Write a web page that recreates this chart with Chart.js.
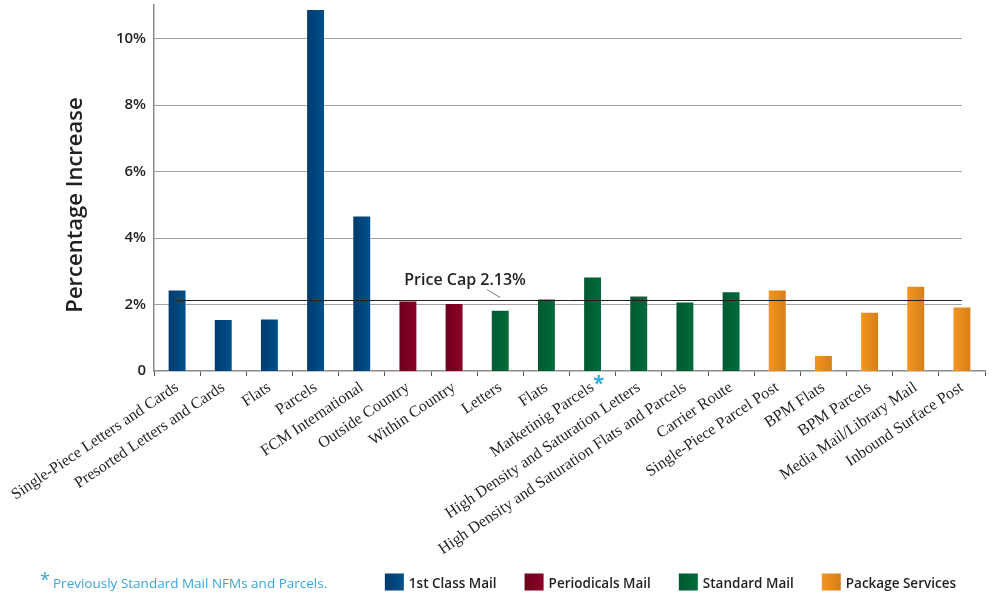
<!DOCTYPE html>
<html>
<head>
<meta charset="utf-8">
<script src="https://cdn.jsdelivr.net/npm/chart.js@4"></script>
<style>
  html, body { margin: 0; padding: 0; background: #fff; }
  #wrap { width: 1000px; height: 600px; }
</style>
</head>
<body>
<div id="wrap"><canvas id="myChart" width="1000" height="600"></canvas></div>
<script>
// datos
let categories = [
  'Single-Piece Letters and Cards', 'Presorted Letters and Cards', 'Flats', 'Parcels',
  'FCM International', 'Outside Country', 'Within Country', 'Letters', 'Flats',
  'Marketinig Parcels', 'High Density and Saturation Letters',
  'High Density and Saturation Flats and Parcels', 'Carrier Route',
  'Single-Piece Parcel Post', 'BPM Flats', 'BPM Parcels', 'Media Mail/Library Mail',
  'Inbound Surface Post'
];
let values = [2.45, 1.56, 1.58, 10.88, 4.67, 2.12, 2.04, 1.84, 2.18, 2.84, 2.27, 2.09, 2.40, 2.45, 0.48, 1.78, 2.56, 1.94];
let groups = [0, 0, 0, 0, 0, 1, 1, 2, 2, 2, 2, 2, 2, 3, 3, 3, 3, 3];
let groupNames = ['1st Class Mail', 'Periodicals Mail', 'Standard Mail', 'Package Services'];
let yTickValues = [0, 2, 4, 6, 8, 10];
let yTitle = 'Percentage Increase';
let priceCap = 2.13;
let priceCapLabel = 'Price Cap 2.13%';
let starredIndex = 9;
let footnote = 'Previously Standard Mail NFMs and Parcels.';

// colores: izquierda / derecha del degradado
let groupColors = [
  ['#003a6c', '#00528c'],
  ['#6a0019', '#8c0028'],
  ['#00582f', '#006c3d'],
  ['#f7961f', '#d47d17']
];
let solidColors = ['#004478', '#7a0021', '#006236', '#ec8c1c'];

let sans = '"Open Sans", "Noto Sans", sans-serif';
let serif = '"Liberation Serif", "DejaVu Serif", serif';
let textColor = '#231f20';

let barGradients = {
  id: 'barGradients',
  beforeDatasetsDraw(chart) {
    let ctx = chart.ctx;
    chart.getDatasetMeta(0).data.forEach((bar, i) => {
      let c = groupColors[groups[i]];
      let g = ctx.createLinearGradient(bar.x - bar.width / 2, 0, bar.x + bar.width / 2, 0);
      g.addColorStop(0, c[0]);
      g.addColorStop(1, c[1]);
      bar.options.backgroundColor = g;
    });
  }
};

// grilla, tope de precio, leyenda y nota
let extras = {
  id: 'extras',
  beforeDatasetsDraw(chart) {
    let ctx = chart.ctx;
    let x = chart.scales.x, y = chart.scales.y;
    let left = chart.chartArea.left;
    let lastX = x.getPixelForValue(categories.length - 1);
    ctx.save();
    ctx.strokeStyle = '#a3a3a3';
    ctx.lineWidth = 1;
    yTickValues.forEach(v => {
      if (v == 0) return;
      let py = Math.round(y.getPixelForValue(v)) + 0.5;
      ctx.beginPath();
      ctx.moveTo(left, py);
      ctx.lineTo(lastX, py);
      ctx.stroke();
    });

    // titulo del eje y, algo mas abajo del centro
    ctx.translate(76, (chart.chartArea.top + chart.chartArea.bottom) / 2 + 17);
    ctx.rotate(-Math.PI / 2);
    ctx.fillStyle = textColor;
    ctx.font = '600 22px ' + sans;
    ctx.textAlign = 'center';
    ctx.textBaseline = 'middle';
    ctx.fillText(yTitle, 0, 0);
    ctx.restore();
  },
  afterDatasetsDraw(chart) {
    let ctx = chart.ctx;
    let x = chart.scales.x, y = chart.scales.y;
    let py = Math.round(y.getPixelForValue(priceCap)) + 0.5;
    ctx.save();
    ctx.strokeStyle = '#231f20';
    ctx.lineWidth = 1;
    ctx.beginPath();
    ctx.moveTo(x.getPixelForValue(0), py);
    ctx.lineTo(x.getPixelForValue(categories.length - 1), py);
    ctx.stroke();

    // etiqueta con linea guia
    let lx = x.getPixelForValue(6) + 11;
    ctx.fillStyle = textColor;
    ctx.font = '600 16px ' + sans;
    ctx.textAlign = 'center';
    ctx.textBaseline = 'middle';
    ctx.fillText(priceCapLabel, lx, py - 20);
    ctx.strokeStyle = '#777';
    ctx.beginPath();
    ctx.moveTo(lx + 22, py - 11);
    ctx.lineTo(lx + 35, py - 3);
    ctx.stroke();

    // asterisco de Marketinig Parcels
    ctx.fillStyle = '#29abe2';
    ctx.font = 'bold 20px ' + sans;
    ctx.textAlign = 'center';
    ctx.fillText('*', x.getPixelForValue(starredIndex) + 6, y.bottom + 13);
    ctx.restore();
  },
  afterDraw(chart) {
    let ctx = chart.ctx;
    let cy = 582;
    ctx.save();
    ctx.textBaseline = 'middle';
    ctx.textAlign = 'left';

    // nota al pie
    ctx.fillStyle = '#3aa5de';
    ctx.font = '18px ' + sans;
    ctx.fillText('*', 40, cy - 1);
    ctx.font = '13.5px ' + sans;
    ctx.fillText(footnote, 53, cy + 2);

    // leyenda alineada a la derecha
    ctx.font = '600 13.5px ' + sans;
    let boxW = 19, boxH = 17, gap = 28, textGap = 5;
    let widths = groupNames.map(n => boxW + textGap + ctx.measureText(n).width);
    let total = widths.reduce((a, b) => a + b, 0) + gap * (groupNames.length - 1);
    let cx = chart.chartArea.right - 29 - total;
    groupNames.forEach((n, i) => {
      let c = groupColors[i];
      let g = ctx.createLinearGradient(cx, 0, cx + boxW, 0);
      g.addColorStop(0, c[0]);
      g.addColorStop(1, c[1]);
      ctx.fillStyle = g;
      ctx.fillRect(cx, cy - boxH / 2, boxW, boxH);
      ctx.fillStyle = textColor;
      ctx.fillText(n, cx + boxW + textGap, cy + 2);
      cx += widths[i] + gap;
    });
    ctx.restore();
  }
};

new Chart('myChart', {
  type: 'bar',
  data: {
    labels: categories,
    datasets: [{
      data: values,
      backgroundColor: groups.map(g => solidColors[g]),
      borderColor: 'rgba(255,255,255,0.35)',
      borderWidth: 1,
      categoryPercentage: 1,
      barPercentage: 0.41
    }]
  },
  options: {
    responsive: false,
    animation: false,
    layout: { padding: { top: 5, right: 15, left: 0, bottom: 0 } },
    plugins: {
      tooltip: { enabled: false },
      legend: { display: false }
    },
    scales: {
      x: {
        grid: { display: true, drawOnChartArea: false, offset: true, tickLength: 5, color: '#555', lineWidth: 1 },
        border: { color: '#8c8c8c', width: 1.5 },
        ticks: {
          color: textColor,
          font: { family: serif, size: 16 },
          minRotation: 34,
          maxRotation: 34,
          autoSkip: false,
          padding: 2
        },
        afterFit: scale => {
          scale.height = scale.chart.height - 371;
          scale.paddingLeft = 0;
          scale.paddingRight = 0;
        }
      },
      y: {
        min: 0,
        max: 11,
        grid: { display: false },
        border: { color: '#8c8c8c', width: 1.5 },
        afterBuildTicks: scale => {
          scale.ticks = yTickValues.map(v => ({ value: v }));
        },
        ticks: {
          padding: 0,
          color: textColor,
          font: { family: sans, size: 15, weight: '600' },
          callback: v => v == 0 ? '0' : v + '%'
        },
        afterFit: scale => {
          scale.width = 154;
          scale.paddingTop = 0;
          scale.paddingBottom = 0;
        }
      }
    }
  },
  plugins: [barGradients, extras]
});
</script>
</body>
</html>
